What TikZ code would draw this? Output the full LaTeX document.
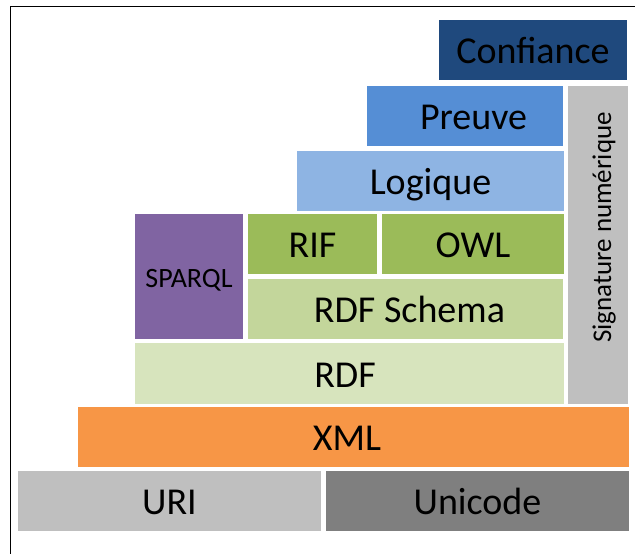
\documentclass[tikz,border=0pt]{standalone}
\usepackage{fontspec}
\setmainfont{Carlito}
\definecolor{cConf}{HTML}{1F497D}
\definecolor{cPreuve}{HTML}{558ED5}
\definecolor{cLog}{HTML}{8EB4E3}
\definecolor{cSparql}{HTML}{8064A2}
\definecolor{cOwl}{HTML}{9BBB59}
\definecolor{cRdfs}{HTML}{C3D69B}
\definecolor{cRdf}{HTML}{D7E4BD}
\definecolor{cXml}{HTML}{F79646}
\definecolor{cUri}{HTML}{BFBFBF}
\definecolor{cUni}{HTML}{7F7F7F}
\tikzset{
  layer/.style={rectangle, inner sep=0pt, outer sep=0pt, draw=none,
    font=\fontsize{38}{40}\selectfont, text height=27.5pt, text depth=0pt, text=black},
  smalllayer/.style={layer, font=\fontsize{28}{30}\selectfont, text height=22pt},
  sidelayer/.style={layer, font=\fontsize{27}{29}\selectfont, text height=26.4pt, rotate=90},
}
\begin{document}
\begin{tikzpicture}[x=1pt,y=-1pt]
\useasboundingbox (0,0) rectangle (635,554);
\fill[white] (0,0) rectangle (635,554);
\draw[line width=1pt] (10,554) -- (10,6) -- (635,6);
\node[layer, fill=cConf, minimum width=188pt, minimum height=60pt] (conf) at (533,50) {Confiance};
\node[layer, fill=cPreuve, minimum width=196pt, minimum height=60pt] (preuve) at (465,116) {\hspace*{17pt}Preuve};
\node[sidelayer, fill=cUri, minimum width=318pt, minimum height=60pt] (sig) at (598,245) {\hspace*{35pt}Signature numérique};
\node[layer, fill=cLog, minimum width=267pt, minimum height=60pt] (logique) at (430.5,181) {Logique};
\node[smalllayer, fill=cSparql, minimum width=108pt, minimum height=125pt] (sparql) at (189,276.5) {SPARQL};
\node[layer, fill=cOwl, minimum width=129pt, minimum height=60pt] (rif) at (312.5,244) {RIF};
\node[layer, fill=cOwl, minimum width=182pt, minimum height=60pt] (owl) at (473,244) {OWL};
\node[layer, fill=cRdfs, minimum width=315pt, minimum height=60pt] (rdfs) at (405.5,309) {\hspace*{8pt}RDF Schema};
\node[layer, fill=cRdf, minimum width=429pt, minimum height=61pt] (rdf) at (349.5,373.5) {RDF\hspace*{9pt}};
\node[layer, fill=cXml, minimum width=551pt, minimum height=60pt] (xml) at (353.5,437) {XML\hspace*{13pt}};
\node[layer, fill=cUri, minimum width=303pt, minimum height=60pt] (uri) at (169.5,501) {URI};
\node[layer, fill=cUni, minimum width=303pt, minimum height=60pt] (unicode) at (477.5,501) {Unicode};
\end{tikzpicture}
\end{document}
